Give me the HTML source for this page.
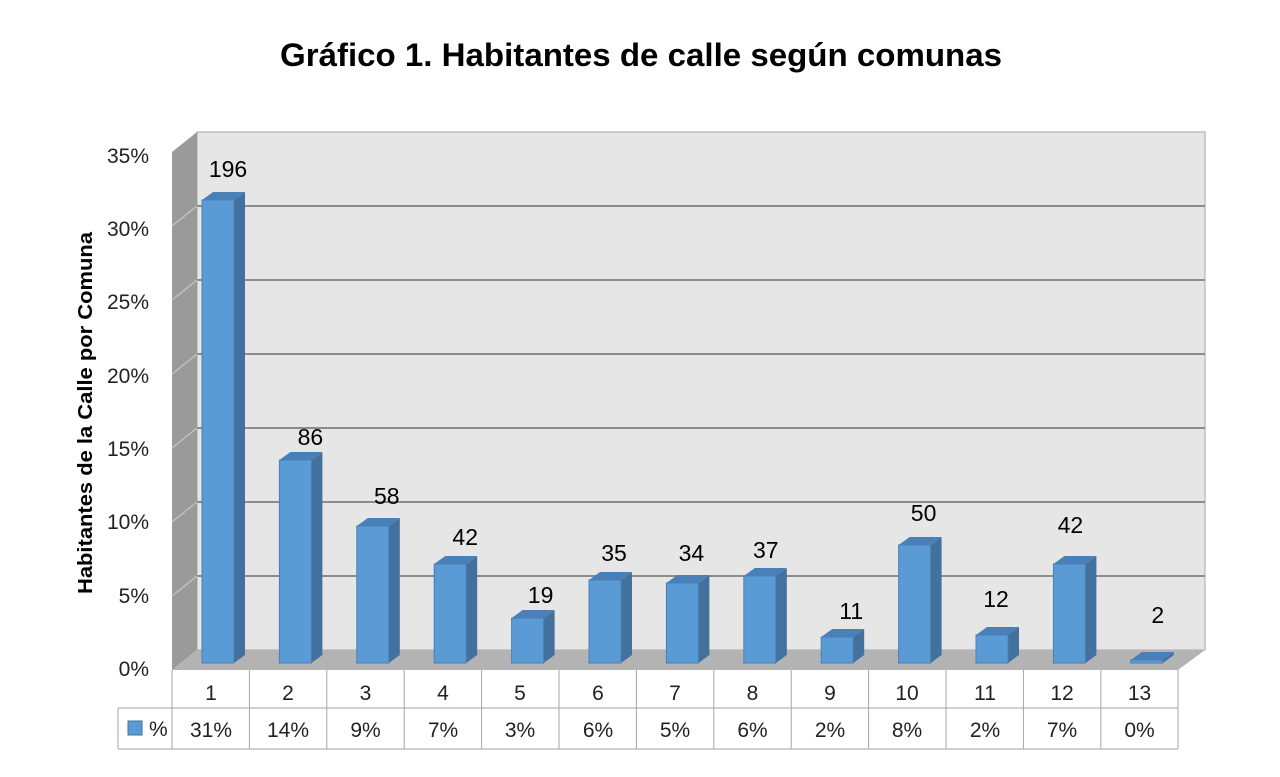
<!DOCTYPE html><html><head><style>body{margin:0;background:#fff}svg{display:block}text{font-family:"Liberation Sans",sans-serif}</style></head><body>
<svg width="1280" height="777" xmlns="http://www.w3.org/2000/svg">
<text x="641" y="66" text-anchor="middle" font-size="32" font-weight="bold" textLength="722" lengthAdjust="spacingAndGlyphs">Gráfico 1. Habitantes de calle según comunas</text>
<rect x="197" y="132" width="1008" height="518" fill="#e6e6e6" stroke="#a6a6a6"/>
<polygon points="172,152 197,132 197,650 172,670" fill="#9a9a9a"/>
<polygon points="172,670 197,650 1205,650 1178,670" fill="#b3b3b3"/>
<g stroke="#8c8c8c" stroke-width="2">
<line x1="197" y1="206" x2="1205" y2="206"/><line x1="197" y1="280" x2="1205" y2="280"/>
<line x1="197" y1="354" x2="1205" y2="354"/><line x1="197" y1="428" x2="1205" y2="428"/>
<line x1="197" y1="502" x2="1205" y2="502"/><line x1="197" y1="576" x2="1205" y2="576"/>
</g>
<g stroke="#bdbdbd" stroke-width="1.5">
<line x1="172" y1="226" x2="197" y2="206"/><line x1="172" y1="300" x2="197" y2="280"/>
<line x1="172" y1="374" x2="197" y2="354"/><line x1="172" y1="448" x2="197" y2="428"/>
<line x1="172" y1="522" x2="197" y2="502"/><line x1="172" y1="596" x2="197" y2="576"/>
</g>
<g font-size="21" fill="#222" text-anchor="end">
<text x="149" y="163">35%</text><text x="149" y="236">30%</text><text x="149" y="309">25%</text>
<text x="149" y="383">20%</text><text x="149" y="456">15%</text><text x="149" y="529">10%</text>
<text x="149" y="603">5%</text><text x="149" y="676">0%</text>
</g>
<text transform="translate(92,413) rotate(-90)" text-anchor="middle" font-size="20" font-weight="bold" textLength="362" lengthAdjust="spacingAndGlyphs">Habitantes de la Calle por Comuna</text>
<g stroke="#a6a6a6" fill="none">
<line x1="172" y1="670" x2="172" y2="749"/><line x1="118" y1="708" x2="1178" y2="708"/>
<line x1="118" y1="749" x2="1178" y2="749"/><line x1="118" y1="708" x2="118" y2="749"/>
<line x1="1178" y1="670" x2="1178" y2="749"/>
<line x1="249.4" y1="670" x2="249.4" y2="749"/><line x1="326.8" y1="670" x2="326.8" y2="749"/>
<line x1="404.2" y1="670" x2="404.2" y2="749"/><line x1="481.6" y1="670" x2="481.6" y2="749"/>
<line x1="559" y1="670" x2="559" y2="749"/><line x1="636.4" y1="670" x2="636.4" y2="749"/>
<line x1="713.8" y1="670" x2="713.8" y2="749"/><line x1="791.2" y1="670" x2="791.2" y2="749"/>
<line x1="868.6" y1="670" x2="868.6" y2="749"/><line x1="946" y1="670" x2="946" y2="749"/>
<line x1="1023.4" y1="670" x2="1023.4" y2="749"/><line x1="1100.8" y1="670" x2="1100.8" y2="749"/>
</g>
<rect x="128" y="721" width="14" height="14" fill="#5b9bd5" stroke="#41719c"/>
<text x="149" y="736" font-size="21" fill="#222">%</text>
<g font-size="21" fill="#222" text-anchor="middle">
<text x="211" y="700">1</text><text x="288" y="700">2</text><text x="365.5" y="700">3</text><text x="443" y="700">4</text><text x="520" y="700">5</text><text x="598" y="700">6</text><text x="675" y="700">7</text><text x="752.5" y="700">8</text><text x="830" y="700">9</text><text x="907" y="700">10</text><text x="985" y="700">11</text><text x="1062" y="700">12</text><text x="1139.5" y="700">13</text>
<text x="211" y="737">31%</text><text x="288" y="737">14%</text><text x="365.5" y="737">9%</text><text x="443" y="737">7%</text><text x="520" y="737">3%</text><text x="598" y="737">6%</text><text x="675" y="737">5%</text><text x="752.5" y="737">6%</text><text x="830" y="737">2%</text><text x="907" y="737">8%</text><text x="985" y="737">2%</text><text x="1062" y="737">7%</text><text x="1139.5" y="737">0%</text>
</g>
<g font-size="23">
<g transform="translate(202,0)"><polygon points="32,200 43,192 43,655 32,663" fill="#41719c"/><polygon points="0,200 11,192 43,192 32,200" fill="#4a80b8"/><rect x="0" y="200" width="32" height="463" fill="#5b9bd5" stroke="#4a80b8"/><text x="26" y="177" text-anchor="middle">196</text></g>
<g transform="translate(279.4,0)"><polygon points="32,460 43,452 43,655 32,663" fill="#41719c"/><polygon points="0,460 11,452 43,452 32,460" fill="#4a80b8"/><rect x="0" y="460" width="32" height="203" fill="#5b9bd5" stroke="#4a80b8"/><text x="31" y="445" text-anchor="middle">86</text></g>
<g transform="translate(356.8,0)"><polygon points="32,526 43,518 43,655 32,663" fill="#41719c"/><polygon points="0,526 11,518 43,518 32,526" fill="#4a80b8"/><rect x="0" y="526" width="32" height="137" fill="#5b9bd5" stroke="#4a80b8"/><text x="30" y="504" text-anchor="middle">58</text></g>
<g transform="translate(434.2,0)"><polygon points="32,564 43,556 43,655 32,663" fill="#41719c"/><polygon points="0,564 11,556 43,556 32,564" fill="#4a80b8"/><rect x="0" y="564" width="32" height="99" fill="#5b9bd5" stroke="#4a80b8"/><text x="31" y="545" text-anchor="middle">42</text></g>
<g transform="translate(511.6,0)"><polygon points="32,618 43,610 43,655 32,663" fill="#41719c"/><polygon points="0,618 11,610 43,610 32,618" fill="#4a80b8"/><rect x="0" y="618" width="32" height="45" fill="#5b9bd5" stroke="#4a80b8"/><text x="29" y="603" text-anchor="middle">19</text></g>
<g transform="translate(589,0)"><polygon points="32,580 43,572 43,655 32,663" fill="#41719c"/><polygon points="0,580 11,572 43,572 32,580" fill="#4a80b8"/><rect x="0" y="580" width="32" height="83" fill="#5b9bd5" stroke="#4a80b8"/><text x="25" y="561" text-anchor="middle">35</text></g>
<g transform="translate(666.4,0)"><polygon points="32,583 43,575 43,655 32,663" fill="#41719c"/><polygon points="0,583 11,575 43,575 32,583" fill="#4a80b8"/><rect x="0" y="583" width="32" height="80" fill="#5b9bd5" stroke="#4a80b8"/><text x="25" y="561" text-anchor="middle">34</text></g>
<g transform="translate(743.8,0)"><polygon points="32,576 43,568 43,655 32,663" fill="#41719c"/><polygon points="0,576 11,568 43,568 32,576" fill="#4a80b8"/><rect x="0" y="576" width="32" height="87" fill="#5b9bd5" stroke="#4a80b8"/><text x="22" y="558" text-anchor="middle">37</text></g>
<g transform="translate(821.2,0)"><polygon points="32,637 43,629 43,655 32,663" fill="#41719c"/><polygon points="0,637 11,629 43,629 32,637" fill="#4a80b8"/><rect x="0" y="637" width="32" height="26" fill="#5b9bd5" stroke="#4a80b8"/><text x="30" y="619" text-anchor="middle">11</text></g>
<g transform="translate(898.6,0)"><polygon points="32,545 43,537 43,655 32,663" fill="#41719c"/><polygon points="0,545 11,537 43,537 32,545" fill="#4a80b8"/><rect x="0" y="545" width="32" height="118" fill="#5b9bd5" stroke="#4a80b8"/><text x="25" y="521" text-anchor="middle">50</text></g>
<g transform="translate(976,0)"><polygon points="32,635 43,627 43,655 32,663" fill="#41719c"/><polygon points="0,635 11,627 43,627 32,635" fill="#4a80b8"/><rect x="0" y="635" width="32" height="28" fill="#5b9bd5" stroke="#4a80b8"/><text x="20" y="607" text-anchor="middle">12</text></g>
<g transform="translate(1053.4,0)"><polygon points="32,564 43,556 43,655 32,663" fill="#41719c"/><polygon points="0,564 11,556 43,556 32,564" fill="#4a80b8"/><rect x="0" y="564" width="32" height="99" fill="#5b9bd5" stroke="#4a80b8"/><text x="17" y="533" text-anchor="middle">42</text></g>
<g transform="translate(1130.8,0)"><polygon points="32,660 43,652 43,655 32,663" fill="#41719c"/><polygon points="0,660 11,652 43,652 32,660" fill="#4a80b8"/><rect x="0" y="660" width="32" height="3" fill="#5b9bd5" stroke="#4a80b8"/><text x="27" y="623" text-anchor="middle">2</text></g>
</g>
</svg>
</body></html>
